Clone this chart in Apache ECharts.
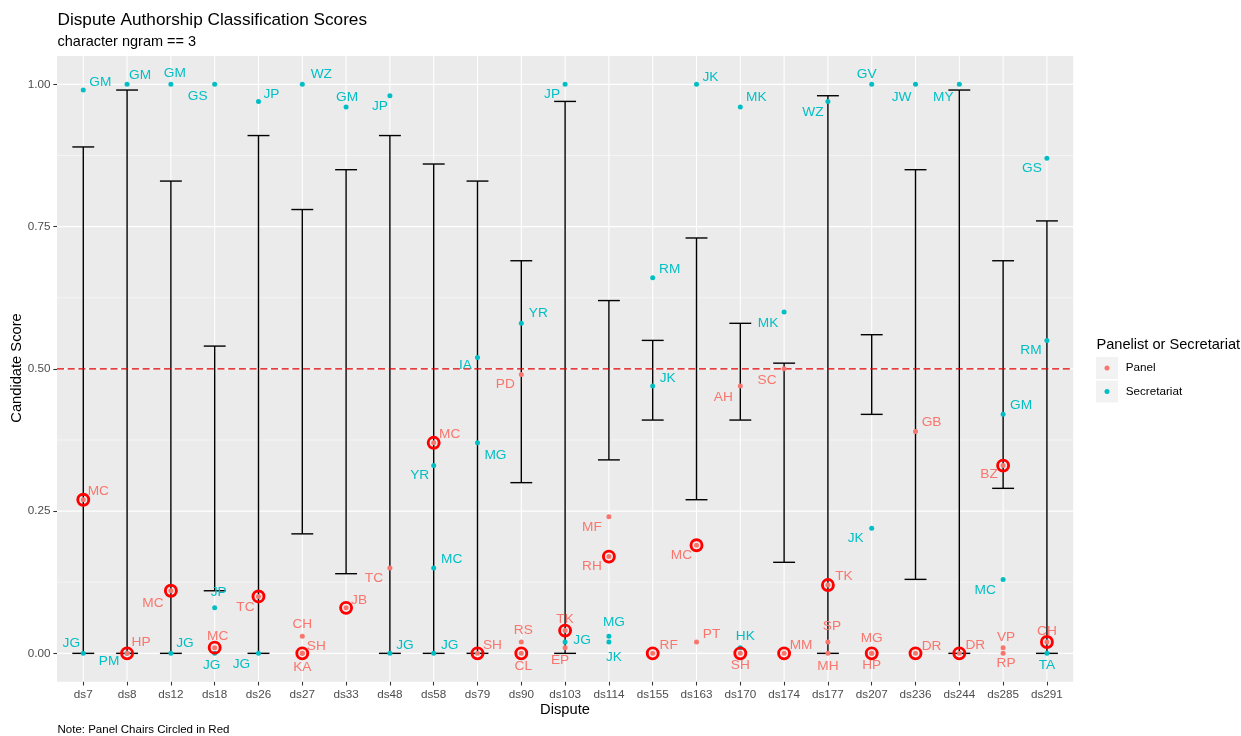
<!DOCTYPE html>
<html>
<head>
<meta charset="utf-8">
<script src="https://cdn.jsdelivr.net/npm/echarts@6/dist/echarts.min.js"></script>
<style>
  html, body { margin: 0; padding: 0; background: #ffffff; }
  #chart { width: 1241px; height: 736px; }
</style>
</head>
<body>
<div id="chart"></div>
<script>
// Disputes on the x axis
const disputes = ['ds7', 'ds8', 'ds12', 'ds18', 'ds26', 'ds27', 'ds33', 'ds48', 'ds58', 'ds79', 'ds90',
  'ds103', 'ds114', 'ds155', 'ds163', 'ds170', 'ds174', 'ds177', 'ds207', 'ds236', 'ds244', 'ds285', 'ds291'];

// Score range per dispute (error bar ends)
const rangeLow  = [0.00, 0.00, 0.00, 0.11, 0.00, 0.21, 0.14, 0.00, 0.00, 0.00, 0.30,
  0.00, 0.34, 0.41, 0.27, 0.41, 0.16, 0.00, 0.42, 0.13, 0.00, 0.29, 0.00];
const rangeHigh = [0.89, 0.99, 0.83, 0.54, 0.91, 0.78, 0.85, 0.91, 0.86, 0.83, 0.69,
  0.97, 0.62, 0.55, 0.73, 0.58, 0.51, 0.98, 0.56, 0.85, 0.99, 0.69, 0.76];

// Candidates: dispute, initials, role, score, panel chair flag
const pointDispute = [
  'ds7', 'ds7', 'ds7',
  'ds8', 'ds8', 'ds8',
  'ds12', 'ds12', 'ds12',
  'ds18', 'ds18', 'ds18', 'ds18',
  'ds26', 'ds26', 'ds26',
  'ds27', 'ds27', 'ds27', 'ds27',
  'ds33', 'ds33',
  'ds48', 'ds48', 'ds48',
  'ds58', 'ds58', 'ds58', 'ds58',
  'ds79', 'ds79', 'ds79',
  'ds90', 'ds90', 'ds90', 'ds90',
  'ds103', 'ds103', 'ds103', 'ds103',
  'ds114', 'ds114', 'ds114', 'ds114',
  'ds155', 'ds155', 'ds155',
  'ds163', 'ds163', 'ds163',
  'ds170', 'ds170', 'ds170', 'ds170',
  'ds174', 'ds174', 'ds174',
  'ds177', 'ds177', 'ds177', 'ds177',
  'ds207', 'ds207', 'ds207', 'ds207',
  'ds236', 'ds236', 'ds236',
  'ds244', 'ds244',
  'ds285', 'ds285', 'ds285', 'ds285', 'ds285',
  'ds291', 'ds291', 'ds291', 'ds291'
];
const pointName = [
  'GM', 'MC', 'JG',
  'GM', 'HP', 'PM',
  'GM', 'MC', 'JG',
  'GS', 'JP', 'MC', 'JG',
  'JP', 'TC', 'JG',
  'WZ', 'CH', 'SH', 'KA',
  'GM', 'JB',
  'JP', 'TC', 'JG',
  'MC', 'YR', 'MC', 'JG',
  'IA', 'MG', 'SH',
  'YR', 'PD', 'RS', 'CL',
  'JP', 'TK', 'JG', 'EP',
  'MF', 'RH', 'MG', 'JK',
  'RM', 'JK', 'RF',
  'JK', 'MC', 'PT',
  'MK', 'AH', 'HK', 'SH',
  'MK', 'SC', 'MM',
  'WZ', 'TK', 'SP', 'MH',
  'GV', 'JK', 'MG', 'HP',
  'JW', 'GB', 'DR',
  'MY', 'DR',
  'GM', 'BZ', 'MC', 'VP', 'RP',
  'GS', 'RM', 'CH', 'TA'
];
const P = 'Panel', S = 'Secretariat';
const pointRole = [
  S, P, S,
  S, P, S,
  S, P, S,
  S, S, P, S,
  S, P, S,
  S, P, P, P,
  S, P,
  S, P, S,
  P, S, S, S,
  S, S, P,
  S, P, P, P,
  S, P, S, P,
  P, P, S, S,
  S, S, P,
  S, P, P,
  S, P, S, P,
  S, P, P,
  S, P, P, P,
  S, S, P, P,
  S, P, P,
  S, P,
  S, P, S, P, P,
  S, S, P, S
];
const pointScore = [
  0.99, 0.27, 0.00,
  1.00, 0.00, 0.00,
  1.00, 0.11, 0.00,
  1.00, 0.08, 0.01, 0.00,
  0.97, 0.10, 0.00,
  1.00, 0.03, 0.00, 0.00,
  0.96, 0.08,
  0.98, 0.15, 0.00,
  0.37, 0.33, 0.15, 0.00,
  0.52, 0.37, 0.00,
  0.58, 0.49, 0.02, 0.00,
  1.00, 0.04, 0.02, 0.01,
  0.24, 0.17, 0.03, 0.02,
  0.66, 0.47, 0.00,
  1.00, 0.19, 0.02,
  0.96, 0.47, 0.01, 0.00,
  0.60, 0.50, 0.00,
  0.97, 0.12, 0.02, 0.00,
  1.00, 0.22, 0.00, 0.00,
  1.00, 0.39, 0.00,
  1.00, 0.00,
  0.42, 0.33, 0.13, 0.01, 0.00,
  0.87, 0.55, 0.02, 0.00
];
const pointChair = [
  0, 1, 0,
  0, 1, 0,
  0, 1, 0,
  0, 0, 1, 0,
  0, 1, 0,
  0, 0, 1, 0,
  0, 1,
  0, 0, 0,
  1, 0, 0, 0,
  0, 0, 1,
  0, 0, 0, 1,
  0, 1, 0, 0,
  0, 1, 0, 0,
  0, 0, 1,
  0, 1, 0,
  0, 0, 0, 1,
  0, 0, 1,
  0, 1, 0, 0,
  0, 0, 1, 0,
  0, 0, 1,
  0, 1,
  0, 1, 0, 0, 0,
  0, 0, 1, 0
];

// Repelled text placement for each candidate label, in pixels from its point
const labelNudge = [
  [17, -8], [15, -8], [-12, -10],
  [13, -9], [14, -11], [-18, 8],
  [4, -11], [-18, 12], [14, -10],
  [-17, 12], [4, -16], [3, -11], [-3, 12],
  [13, -7], [-13, 11], [-17, 11],
  [19, -10], [0, -12], [14, -7], [0, 14],
  [1, -10], [13, -8],
  [-10, 10], [-16, 10], [15, -8],
  [16, -9], [-14, 10], [18, -9], [16, -8],
  [-12, 8], [18, 12], [15, -8],
  [17, -10], [-16, 10], [2, -12], [2, 13],
  [-13, 10], [0, -11], [17, -2], [-5, 13],
  [-17, 10], [-17, 10], [5, -14], [5, 15],
  [17, -9], [15, -8], [16, -8],
  [14, -7], [-15, 10], [15, -8],
  [16, -10], [-17, 11], [5, -11], [0, 12],
  [-16, 11], [-17, 11], [17, -8],
  [-15, 11], [16, -9], [4, -16], [0, 13],
  [-5, -10], [-16, 10], [0, -15], [0, 12],
  [-14, 13], [16, -9], [16, -7],
  [-16, 13], [16, -8],
  [18, -9], [-14, 9], [-18, 11], [3, -10], [3, 10],
  [-15, 10], [-16, 10], [0, -11], [0, 12]
];

const yTicks = [0, 0.25, 0.5, 0.75, 1];
const yMinorTicks = [0.125, 0.375, 0.625, 0.875];
const threshold = 0.5;

const FONT = '"Liberation Sans", Arial, Helvetica, sans-serif';
const ROLE_COLOR = { Panel: '#F8766D', Secretariat: '#00BFC4' };
const AXIS_TEXT = '#4D4D4D';

const xOf = d => disputes.indexOf(d) + 1;
const xPositions = disputes.map((_, i) => i + 1);

function pointsFor(role) {
  const out = [];
  pointName.forEach((n, i) => {
    if (pointRole[i] !== role) return;
    out.push({
      name: n,
      value: [xOf(pointDispute[i]), pointScore[i]],
      label: { offset: labelNudge[i] }
    });
  });
  return out;
}

const chairPoints = [];
pointName.forEach((n, i) => {
  if (pointChair[i]) chairPoints.push([xOf(pointDispute[i]), pointScore[i]]);
});

// Panel grid lines: code 0 = major horizontal, 1 = minor horizontal, 2 = vertical
const gridData = []
  .concat(yMinorTicks.map(v => [v, 1]))
  .concat(yTicks.map(v => [v, 0]))
  .concat(xPositions.map(v => [v, 2]));

function roleSeries(role, z) {
  return {
    name: role, type: 'scatter', z: z,
    symbol: 'circle', symbolSize: 5,
    itemStyle: { color: ROLE_COLOR[role], opacity: 1 },
    label: {
      show: true, position: 'inside', formatter: '{b}', opacity: 1,
      color: ROLE_COLOR[role], fontSize: 13.7, fontFamily: FONT,
      align: 'center', verticalAlign: 'middle', textBorderWidth: 0
    },
    emphasis: { disabled: true },
    data: pointsFor(role)
  };
}

const chart = echarts.init(document.getElementById('chart'), null, { renderer: 'canvas' });

const option = {
  animation: false,
  backgroundColor: '#ffffff',
  textStyle: { fontFamily: FONT },
  grid: {
    left: 57, right: 167.8, top: 55.9, bottom: 54.2,
    show: true, backgroundColor: '#EBEBEB', borderWidth: 0, containLabel: false
  },
  xAxis: {
    type: 'value', min: 0.4, max: 23.6,
    axisLine: { show: false, onZero: false },
    splitLine: { show: false },
    axisTick: { show: true, length: 3.67, customValues: xPositions, lineStyle: { color: '#333333', width: 1.07 } },
    axisLabel: {
      customValues: xPositions, margin: 6.6, color: AXIS_TEXT, fontSize: 11.7, fontFamily: FONT,
      formatter: v => disputes[Math.round(v) - 1] || ''
    }
  },
  yAxis: {
    type: 'value', min: -0.05, max: 1.05,
    axisLine: { show: false, onZero: false },
    splitLine: { show: false },
    axisTick: { show: true, length: 3.67, customValues: yTicks, lineStyle: { color: '#333333', width: 1.07 } },
    axisLabel: {
      customValues: yTicks, margin: 6.6, color: AXIS_TEXT, fontSize: 11.7, fontFamily: FONT,
      formatter: v => v.toFixed(2)
    }
  },
  series: [
    {
      // white panel grid
      type: 'custom', silent: true, z: 0,
      data: gridData,
      encode: { x: 0, y: 1 },
      renderItem(params, api) {
        const cs = params.coordSys;
        const v = api.value(0), code = api.value(1);
        if (code === 2) {
          const x = api.coord([v, 0])[0];
          return { type: 'line', shape: { x1: x, y1: cs.y, x2: x, y2: cs.y + cs.height },
            style: { stroke: '#ffffff', lineWidth: 1.07 } };
        }
        const y = api.coord([1, v])[1];
        return { type: 'line', shape: { x1: cs.x, y1: y, x2: cs.x + cs.width, y2: y },
          style: { stroke: '#ffffff', lineWidth: code === 0 ? 1.07 : 0.53 } };
      }
    },
    {
      // score range per dispute
      type: 'custom', silent: true, z: 2,
      data: disputes.map((d, i) => [i + 1, rangeLow[i], rangeHigh[i]]),
      encode: { x: 0, y: [1, 2] },
      renderItem(params, api) {
        const x = api.value(0);
        const lo = api.coord([x, api.value(1)]);
        const hi = api.coord([x, api.value(2)]);
        const half = api.size([0.5, 0])[0] / 2;
        const st = { stroke: '#000000', lineWidth: 1.4 };
        return {
          type: 'group',
          children: [
            { type: 'line', shape: { x1: lo[0], y1: lo[1], x2: hi[0], y2: hi[1] }, style: st },
            { type: 'line', shape: { x1: lo[0] - half, y1: lo[1], x2: lo[0] + half, y2: lo[1] }, style: st },
            { type: 'line', shape: { x1: hi[0] - half, y1: hi[1], x2: hi[0] + half, y2: hi[1] }, style: st }
          ]
        };
      }
    },
    {
      // dashed reference line at the 0.5 score
      type: 'custom', silent: true, z: 2,
      data: [[threshold]],
      encode: { y: 0 },
      renderItem(params, api) {
        const cs = params.coordSys;
        const y = api.coord([1, api.value(0)])[1];
        return { type: 'line', shape: { x1: cs.x, y1: y, x2: cs.x + cs.width, y2: y },
          style: { stroke: '#E00000', lineWidth: 1.2, lineDash: [7, 3.7] } };
      }
    },
    roleSeries('Secretariat', 3),
    roleSeries('Panel', 4),
    {
      name: 'Chair', type: 'scatter', z: 5, silent: true,
      symbol: 'circle', symbolSize: 11,
      itemStyle: { color: 'rgba(0,0,0,0)', borderColor: '#FF0000', borderWidth: 2.9, opacity: 1 },
      emphasis: { disabled: true },
      data: chairPoints
    }
  ],
  graphic: [
    { type: 'text', x: 57.5, y: 20, style: { text: 'Dispute Authorship Classification Scores',
      font: '17.2px ' + FONT, fill: '#000000', verticalAlign: 'middle' } },
    { type: 'text', x: 57.5, y: 42, style: { text: 'character ngram == 3',
      font: '14.5px ' + FONT, fill: '#000000', verticalAlign: 'middle' } },
    { type: 'text', x: 565, y: 710, style: { text: 'Dispute',
      font: '14.7px ' + FONT, fill: '#000000', align: 'center', verticalAlign: 'middle' } },
    { type: 'text', x: 17, y: 368, rotation: Math.PI / 2, style: { text: 'Candidate Score',
      font: '14.7px ' + FONT, fill: '#000000', align: 'center', verticalAlign: 'middle' } },
    { type: 'text', x: 57.5, y: 730, style: { text: 'Note: Panel Chairs Circled in Red',
      font: '11.5px ' + FONT, fill: '#000000', verticalAlign: 'middle' } },
    // legend
    { type: 'text', x: 1096.5, y: 345, style: { text: 'Panelist or Secretariat',
      font: '14.6px ' + FONT, fill: '#000000', verticalAlign: 'middle' } },
    { type: 'rect', shape: { x: 1096, y: 357, width: 22, height: 22 }, style: { fill: '#F2F2F2' } },
    { type: 'rect', shape: { x: 1096, y: 380.5, width: 22, height: 22 }, style: { fill: '#F2F2F2' } },
    { type: 'circle', shape: { cx: 1107, cy: 368, r: 2.5 }, style: { fill: ROLE_COLOR.Panel } },
    { type: 'circle', shape: { cx: 1107, cy: 391.5, r: 2.5 }, style: { fill: ROLE_COLOR.Secretariat } },
    { type: 'text', x: 1125.7, y: 368, style: { text: 'Panel',
      font: '11.7px ' + FONT, fill: '#000000', verticalAlign: 'middle' } },
    { type: 'text', x: 1125.7, y: 391.5, style: { text: 'Secretariat',
      font: '11.7px ' + FONT, fill: '#000000', verticalAlign: 'middle' } }
  ]
};

chart.setOption(option);
</script>
</body>
</html>
